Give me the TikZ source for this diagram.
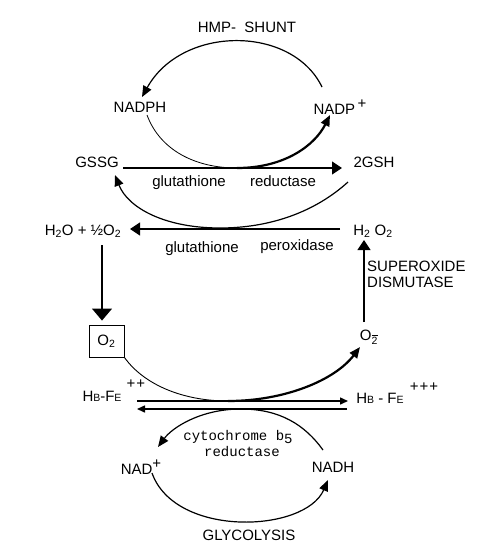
\documentclass[tikz,border=0pt]{standalone}
\usepackage{fontspec}
\setmainfont{Liberation Sans}
\newfontfamily\cytfont{Liberation Mono}
\usetikzlibrary{arrows.meta}
\tikzset{
  lbl/.style={inner sep=0pt, font=\fontsize{15}{17}\selectfont},
  enz/.style={inner sep=0pt, font=\fontsize{15}{17}\selectfont},
  cyt/.style={inner sep=0pt, font=\cytfont\fontsize{14}{16}\selectfont},
  thinln/.style={line width=1.2pt},
  thickln/.style={line width=2.2pt},
  tip/.style={-{Triangle[length=11pt,width=9pt]}},
  bigtip/.style={-{Triangle[length=12pt,width=20pt]}},
  midtip/.style={-{Triangle[length=10pt,width=13pt]}},
  smalltip/.style={-{Triangle[length=8pt,width=7pt]}},
}
\newcommand{\smc}[1]{{\fontsize{10.5}{10}\selectfont #1}}
\newcommand{\sub}[1]{\textsubscript{#1}}
\begin{document}
\begin{tikzpicture}[x=1pt,y=-1pt]
\useasboundingbox (0,0) rectangle (496,547);
% text nodes
\node[lbl] (hmp) at (247,27) {HMP-\ \ SHUNT};
\node[lbl] (nadph) at (140,107) {NADPH};
\node[lbl] (nadp) at (340,107) {NADP\raisebox{6pt}{\,+}};
\node[lbl] (gssg) at (97,162) {GSSG};
\node[lbl] (gsh) at (374,162) {2GSH};
\node[enz] (grA) at (189,183) {glutathione};
\node[enz] (grB) at (283,181) {reductase};
\node[lbl] (h2o) at (83,231) {H\sub{2}O + ½O\sub{2}};
\node[lbl] (h2o2) at (373,231) {H\sub{2} O\sub{2}};
\node[enz] (gpA) at (202,249) {glutathione};
\node[enz] (gpB) at (297,247) {peroxidase};
\node[lbl, draw, line width=0.9pt, minimum width=35pt, minimum height=32pt] (o2) at (106.5,341) {O\sub{2}};
\node[lbl, anchor=west, align=left, font=\fontsize{15}{16}\selectfont] (sod) at (367,274.5) {SUPEROXIDE\\DISMUTASE};
\node[lbl] (o2m) at (369,337) {O\sub{$\overline{\hbox{2}}$}};
\node[lbl] (hb2) at (102,396) {H\smc{B}-F\smc{E}};
\node[lbl] (hb2c) at (136,384) {+\kern1pt+};
\node[lbl] (hb3) at (380,398) {H\smc{B} - F\smc{E}};
\node[lbl] (hb3c) at (424,387) {+\kern1pt+\kern1pt+};
\node[cyt] (cytA) at (238,437) {cytochrome b\raisebox{-3pt}{5}};
\node[cyt] (cytB) at (242,452) {reductase};
\node[lbl] (nad) at (141,467) {NAD\raisebox{6pt}{+}};
\node[lbl] (nadh) at (333,467) {NADH};
\node[lbl] (gly) at (249,535) {GLYCOLYSIS};
% touch points of the curves on the reaction lines
\coordinate (t1) at (237,168);
\coordinate (t2) at (220,228);
\coordinate (t3) at (228,401);
\coordinate (t4) at (241,409);
% HMP shunt loop
\draw[thinln, tip] ([shift={(-18,-20)}]nadp.center) .. controls (292,25) and (182,25) .. ([shift={(2,-10)}]nadph.center);
\draw[line width=0.8pt] ([shift={(7,8)}]nadph.center) .. controls (160,150) and (195,168) .. (t1);
\draw[thickln, tip] (t1) .. controls (285,168) and (315,145) .. ([shift={(-10,8)}]nadp.center);
% glutathione reductase
\draw[thinln, midtip] ([shift={(26,6)}]gssg.center) -- ([shift={(-32,6)}]gsh.center);
\draw[thinln, tip] ([shift={(-26,20)}]gsh.center) .. controls (315,212) and (270,228) .. (t2) .. controls (165,228) and (128,208) .. ([shift={(18,13)}]gssg.center);
% glutathione peroxidase
\draw[thinln, midtip] ([shift={(-33,-2)}]h2o2.center) -- ([shift={(47,-2)}]h2o.center);
% H2O -> O2
\draw[line width=1.3pt, bigtip] ([shift={(19,14)}]h2o.center) -- ([shift={(-4.5,-4)}]o2.north);
% SOD
\draw[line width=1.3pt, midtip] ([shift={(-5,-15)}]o2m.center) -- ([shift={(-9,9)}]h2o2.center);
% O2 -> O2-
\draw[line width=0.9pt] (o2.south east) .. controls (145,386) and (185,401) .. (t3);
\draw[thickln, tip] (t3) .. controls (285,401) and (335,380) .. ([shift={(-9,10)}]o2m.center);
% Hb-Fe arrows
\draw[line width=1.5pt, smalltip] ([shift={(35,5)}]hb2.center) -- ([shift={(-32,3)}]hb3.center);
\draw[line width=1.5pt, smalltip] ([shift={(-33,11)}]hb3.center) -- ([shift={(35,13)}]hb2.center);
% cytochrome b5 reductase
\draw[thinln, tip] ([shift={(-10,-17)}]nadh.center) .. controls (305,425) and (280,409) .. (t4) .. controls (200,409) and (172,428) .. ([shift={(17,-20)}]nad.center);
% glycolysis
\draw[thinln, tip] ([shift={(11,6)}]nad.center) .. controls (175,538) and (305,533) .. ([shift={(-5,13)}]nadh.center);
\end{tikzpicture}
\end{document}
